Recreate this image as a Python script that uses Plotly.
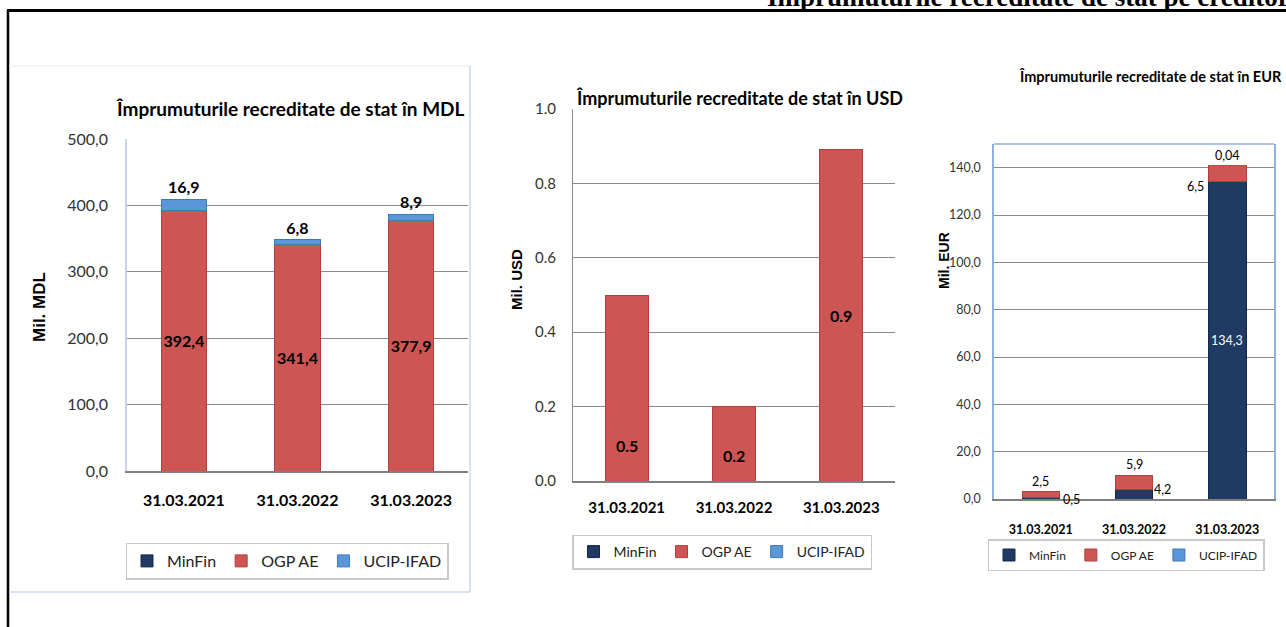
import plotly.graph_objects as go

# ---------------- data ----------------
categories = ["31.03.2021", "31.03.2022", "31.03.2023"]
series_names = ["MinFin", "OGP AE", "UCIP-IFAD"]

mdl_minfin = [0, 0, 0]
mdl_ogp = [392.4, 341.4, 377.9]
mdl_ucip = [16.9, 6.8, 8.9]

usd_minfin = [0, 0, 0]
usd_ogp = [0.5, 0.2, 0.89]
usd_ucip = [0, 0, 0]

eur_minfin = [0.5, 4.2, 134.3]
eur_ogp = [2.5, 5.9, 6.5]
eur_ucip = [0, 0, 0.04]

mdl_ticks = [0, 100, 200, 300, 400, 500]
usd_ticks = [0.0, 0.2, 0.4, 0.6, 0.8, 1.0]
eur_ticks = [0, 20, 40, 60, 80, 100, 120, 140]

main_title = "Împrumuturile recreditate de stat pe creditori"
mdl_title = "Împrumuturile recreditate de stat în MDL"
usd_title = "Împrumuturile recreditate de stat în USD"
eur_title = "Împrumuturile recreditate de stat în EUR"

# ---------------- styles ----------------
W, H = 1286, 627
FONT = "Lato"
C_MINFIN = "#1F3A63"
C_OGP = "#CD5553"
C_UCIP = "#5B97D8"
LINE_MINFIN = "#14284a"
LINE_OGP = "#b0403e"
LINE_UCIP = "#3f78b8"
GRID = "#8c8c8c"


def px(x):
    return x / W


def py(y):
    return 1 - y / H


def comma(v, nd=1):
    return f"{v:.{nd}f}".replace(".", ",")


def nz(vals):
    return [v if v else None for v in vals]


fig = go.Figure()

colors = [C_MINFIN, C_OGP, C_UCIP]
lines = [LINE_MINFIN, LINE_OGP, LINE_UCIP]


def add_chart(vals, xa, ya, legend, texts=None, textpos=None, tfont=None):
    for i, (name, v) in enumerate(zip(series_names, vals)):
        kw = {}
        if texts is not None and texts[i] is not None:
            kw = dict(text=texts[i], textposition=textpos[i], textfont=tfont,
                      insidetextanchor="middle", constraintext="none",
                      textangle=0, cliponaxis=False)
        fig.add_trace(go.Bar(
            x=categories, y=nz(v), name=name, xaxis=xa, yaxis=ya, legend=legend,
            marker=dict(color=colors[i], line=dict(color=lines[i], width=1)),
            width=0.4, hoverinfo="skip", **kw))


# MDL chart (bar labels via the library)
mdl_tfont = dict(family=FONT, size=16, color="black", weight="bold")
add_chart([mdl_minfin, mdl_ogp, mdl_ucip], "x", "y", "legend",
          texts=[None, [comma(v) for v in mdl_ogp], [comma(v) for v in mdl_ucip]],
          textpos=[None, "inside", "outside"], tfont=mdl_tfont)

# USD chart
add_chart([usd_minfin, usd_ogp, usd_ucip], "x2", "y2", "legend2")

# EUR chart
add_chart([eur_minfin, eur_ogp, eur_ucip], "x3", "y3", "legend3")

annotations = []

# USD labels inside bars at a fraction of the bar height
usd_label_frac = [0.19, 0.34, 0.5]
for c, v, f in zip(categories, usd_ogp, usd_label_frac):
    annotations.append(dict(x=c, y=v * f, xref="x2", yref="y2", text=f"{v:.1f}",
                            xanchor="center", yanchor="middle", showarrow=False,
                            font=dict(family=FONT, size=16, color="black", weight="bold")))

# EUR labels: (series index, category index, placement)
eur_vals = [eur_minfin, eur_ogp, eur_ucip]
eur_label_spec = [(0, 0, "right_base"), (1, 0, "above"), (0, 1, "right_top"),
                  (1, 1, "above"), (1, 2, "left_top"), (2, 2, "above"), (0, 2, "center")]
for s, ci, place in eur_label_spec:
    v = eur_vals[s][ci]
    base = sum(eur_vals[k][ci] for k in range(s))
    top = base + v
    total = sum(eur_vals[k][ci] for k in range(3))
    txt = comma(v, 2) if v < 0.1 else comma(v)
    font = dict(family=FONT, size=12.5, color="black")
    a = dict(xref="x3", yref="y3", x=categories[ci], text=txt, showarrow=False, font=font,
             xanchor="center", yanchor="middle")
    if place == "right_base":
        a.update(y=0, xshift=31)
    elif place == "right_top":
        a.update(y=top, xshift=28)
    elif place == "above":
        a.update(y=total, yanchor="bottom", yshift=1)
    elif place == "left_top":
        a.update(y=base, xshift=-32, yshift=-5)
    elif place == "center":
        a.update(y=base + v / 2, font=dict(family=FONT, size=12.5, color="white"))
    annotations.append(a)


def pann(x, y, text, font, **kw):
    d = dict(xref="paper", yref="paper", x=px(x), y=py(y), text=text, showarrow=False,
             xanchor="center", yanchor="middle", font=font)
    d.update(kw)
    return d


annotations += [
    pann(765, -3, main_title,
         dict(family="Liberation Serif", size=27, color="black", weight="bold"), xanchor="left"),
    pann(290, 108, mdl_title, dict(family=FONT, size=19, color="black", weight="bold")),
    pann(739, 98, usd_title, dict(family=FONT, size=18, color="black", weight="bold")),
    pann(1150, 77, eur_title, dict(family=FONT, size=14.5, color="black", weight="bold")),
    pann(40, 307, "Mil. MDL", dict(family="Liberation Sans", size=17, color="black", weight="bold"),
         textangle=-90),
    pann(516, 280, "Mil. USD", dict(family="Liberation Sans", size=15, color="black", weight="bold"),
         textangle=-90),
    pann(944, 261, "Mil. EUR", dict(family="Liberation Sans", size=14, color="black", weight="bold"),
         textangle=-90),
]

shapes = [
    # page frame
    dict(type="line", xref="paper", yref="paper", x0=px(7), x1=1, y0=py(10.5), y1=py(10.5),
         line=dict(color="black", width=3)),
    dict(type="line", xref="paper", yref="paper", x0=px(8), x1=px(8), y0=py(10), y1=0,
         line=dict(color="black", width=2.5)),
    # MDL chart frame
    dict(type="line", xref="paper", yref="paper", x0=px(9), x1=px(470), y0=py(66), y1=py(66),
         line=dict(color="#eef1f6", width=1.5)),
    dict(type="line", xref="paper", yref="paper", x0=px(470), x1=px(470), y0=py(66), y1=py(592),
         line=dict(color="#c9d8ec", width=1.5)),
    dict(type="line", xref="paper", yref="paper", x0=px(9), x1=px(470), y0=py(592), y1=py(592),
         line=dict(color="#c9d8ec", width=1.5)),
    # EUR plot top border
    dict(type="line", xref="x3 domain", yref="y3 domain", x0=0, x1=1, y0=1, y1=1,
         line=dict(color="#8eb0dc", width=1.5)),
]

tickfont_mdl = dict(family=FONT, size=16, color="#333333")
tickfont_usd = dict(family=FONT, size=15, color="#333333")
tickfont_eur = dict(family=FONT, size=12.5, color="#333333")


def xfont(s, fam=FONT):
    return dict(family=fam, size=s, color="black", weight="bold")


common_x = dict(showgrid=False, ticks="", showline=True, linecolor="#808080", linewidth=2,
                fixedrange=True, automargin=False, zeroline=False)
common_y = dict(showgrid=True, gridcolor=GRID, gridwidth=1, ticks="", zeroline=False,
                fixedrange=True, automargin=False)


def legend_cfg(x, y, size, fam=FONT):
    return dict(orientation="h", x=px(x), y=py(y), xanchor="center", yanchor="middle",
                bgcolor="white", bordercolor="#c8c8c8", borderwidth=1.5,
                font=dict(family=fam, size=size, color="#222"), itemwidth=30,
                traceorder="normal", itemclick=False, itemdoubleclick=False)


fig.update_layout(
    template="none",
    width=W, height=H, margin=dict(l=0, r=0, t=0, b=0, pad=0, autoexpand=False),
    paper_bgcolor="white", plot_bgcolor="white",
    barmode="stack", showlegend=True,
    font=dict(family=FONT, color="black"),
    xaxis=dict(domain=[px(127), px(468)], anchor="y", tickfont=xfont(16),
               ticklabelstandoff=14, **common_x),
    yaxis=dict(domain=[py(471), py(139)], anchor="x", range=[0, 500],
               tickvals=mdl_ticks, ticktext=[comma(t) for t in mdl_ticks],
               tickfont=tickfont_mdl, ticklabelstandoff=14,
               showline=True, linecolor="#c5d5ea", linewidth=1.5, **common_y),
    xaxis2=dict(domain=[px(573), px(895)], anchor="y2", tickfont=xfont(15),
                ticklabelstandoff=12, **common_x),
    yaxis2=dict(domain=[py(481), py(109)], anchor="x2", range=[0, 1.0],
                tickvals=usd_ticks, ticktext=[f"{t:.1f}" for t in usd_ticks],
                tickfont=tickfont_usd, ticklabelstandoff=13,
                showline=True, linecolor="#8c8c8c", linewidth=1, **common_y),
    xaxis3=dict(domain=[px(994), px(1274)], anchor="y3", tickfont=xfont(12.5),
                ticklabelstandoff=18, **common_x),
    yaxis3=dict(domain=[py(499), py(144)], anchor="x3", range=[0, 150],
                tickvals=eur_ticks, ticktext=[comma(t) for t in eur_ticks],
                tickfont=tickfont_eur, ticklabelstandoff=9,
                showline=True, mirror=True, linecolor="#8eb0dc", linewidth=1.5, **common_y),
    legend=legend_cfg(287, 561, 16),
    legend2=legend_cfg(722, 552, 14),
    legend3=legend_cfg(1126, 555, 12),
    annotations=annotations,
    shapes=shapes,
)

fig.write_html("out.html", config={"displayModeBar": False},
               post_script="document.body.style.margin='0px';document.body.style.overflow='hidden';")
